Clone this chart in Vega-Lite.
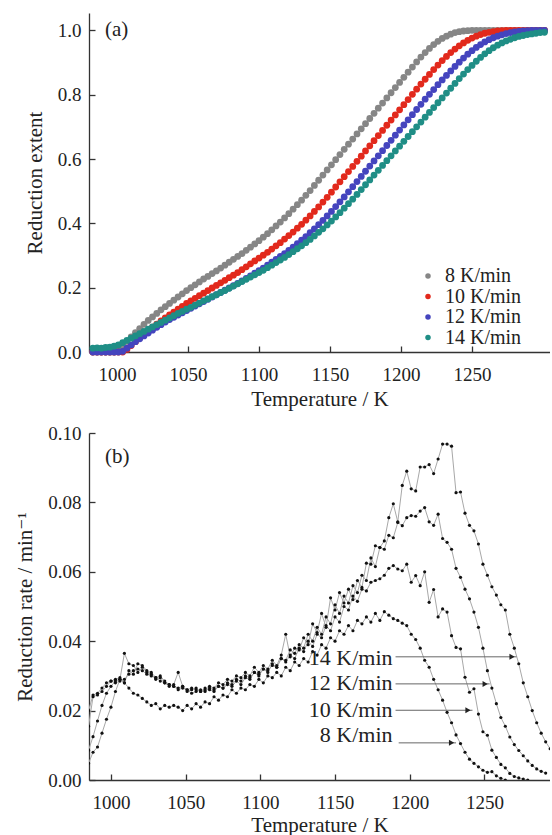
{
"$schema": "https://vega.github.io/schema/vega-lite/v6.json",
"background": "white",
"padding": {"left": 14, "top": 13, "right": 0, "bottom": 0},
"spacing": 15,
"config": {
 "font": "Liberation Serif, Times New Roman, DejaVu Serif, serif",
 "view": {"stroke": null},
 "axis": {"grid": false, "domainColor": "#333", "domainWidth": 1.3, "tickColor": "#333", "tickWidth": 1.3, "tickSize": -6, "labelFontSize": 19, "titleFontSize": 21, "labelColor": "#222", "titleColor": "#222", "titleFontWeight": "normal", "labelFont": "Liberation Serif, Times New Roman, DejaVu Serif, serif", "titleFont": "Liberation Serif, Times New Roman, DejaVu Serif, serif"},
 "axisX": {"labelPadding": 19, "titlePadding": 4},
 "axisY": {"labelPadding": 14, "titlePadding": 12},
 "text": {"font": "Liberation Serif, Times New Roman, DejaVu Serif, serif"},
 "legend": {"labelFont": "Liberation Serif, Times New Roman, DejaVu Serif, serif"}
},
"datasets": {
"ext": [
{"s":"8","T":983,"v":0},{"s":"8","T":986,"v":0},{"s":"8","T":989,"v":0},{"s":"8","T":992,"v":0},{"s":"8","T":995,"v":0},{"s":"8","T":998,"v":0},{"s":"8","T":1001,"v":0.005},{"s":"8","T":1004,"v":0.018},{"s":"8","T":1007,"v":0.033},{"s":"8","T":1010,"v":0.047},{"s":"8","T":1013,"v":0.06},{"s":"8","T":1016,"v":0.073},{"s":"8","T":1019,"v":0.086},{"s":"8","T":1022,"v":0.098},{"s":"8","T":1025,"v":0.109},{"s":"8","T":1028,"v":0.12},{"s":"8","T":1031,"v":0.131},{"s":"8","T":1034,"v":0.141},{"s":"8","T":1037,"v":0.151},{"s":"8","T":1040,"v":0.161},{"s":"8","T":1043,"v":0.171},{"s":"8","T":1046,"v":0.181},{"s":"8","T":1049,"v":0.191},{"s":"8","T":1052,"v":0.2},{"s":"8","T":1055,"v":0.209},{"s":"8","T":1058,"v":0.218},{"s":"8","T":1061,"v":0.227},{"s":"8","T":1064,"v":0.235},{"s":"8","T":1067,"v":0.244},{"s":"8","T":1070,"v":0.252},{"s":"8","T":1073,"v":0.261},{"s":"8","T":1076,"v":0.27},{"s":"8","T":1079,"v":0.279},{"s":"8","T":1082,"v":0.288},{"s":"8","T":1085,"v":0.297},{"s":"8","T":1088,"v":0.306},{"s":"8","T":1091,"v":0.316},{"s":"8","T":1094,"v":0.326},{"s":"8","T":1097,"v":0.336},{"s":"8","T":1100,"v":0.346},{"s":"8","T":1103,"v":0.357},{"s":"8","T":1106,"v":0.368},{"s":"8","T":1109,"v":0.38},{"s":"8","T":1112,"v":0.392},{"s":"8","T":1115,"v":0.404},{"s":"8","T":1118,"v":0.417},{"s":"8","T":1121,"v":0.43},{"s":"8","T":1124,"v":0.444},{"s":"8","T":1127,"v":0.458},{"s":"8","T":1130,"v":0.472},{"s":"8","T":1133,"v":0.487},{"s":"8","T":1136,"v":0.502},{"s":"8","T":1139,"v":0.518},{"s":"8","T":1142,"v":0.534},{"s":"8","T":1145,"v":0.55},{"s":"8","T":1148,"v":0.566},{"s":"8","T":1151,"v":0.582},{"s":"8","T":1154,"v":0.598},{"s":"8","T":1157,"v":0.614},{"s":"8","T":1160,"v":0.63},{"s":"8","T":1163,"v":0.646},{"s":"8","T":1166,"v":0.662},{"s":"8","T":1169,"v":0.678},{"s":"8","T":1172,"v":0.694},{"s":"8","T":1175,"v":0.71},{"s":"8","T":1178,"v":0.726},{"s":"8","T":1181,"v":0.742},{"s":"8","T":1184,"v":0.758},{"s":"8","T":1187,"v":0.774},{"s":"8","T":1190,"v":0.79},{"s":"8","T":1193,"v":0.806},{"s":"8","T":1196,"v":0.822},{"s":"8","T":1199,"v":0.838},{"s":"8","T":1202,"v":0.854},{"s":"8","T":1205,"v":0.87},{"s":"8","T":1208,"v":0.886},{"s":"8","T":1211,"v":0.902},{"s":"8","T":1214,"v":0.917},{"s":"8","T":1217,"v":0.931},{"s":"8","T":1220,"v":0.944},{"s":"8","T":1223,"v":0.956},{"s":"8","T":1226,"v":0.966},{"s":"8","T":1229,"v":0.975},{"s":"8","T":1232,"v":0.982},{"s":"8","T":1235,"v":0.988},{"s":"8","T":1238,"v":0.993},{"s":"8","T":1241,"v":0.996},{"s":"8","T":1244,"v":0.998},{"s":"8","T":1247,"v":0.999},{"s":"8","T":1250,"v":1},{"s":"8","T":1253,"v":1},{"s":"8","T":1256,"v":1},{"s":"8","T":1259,"v":1},{"s":"8","T":1262,"v":1},{"s":"8","T":1265,"v":1},{"s":"8","T":1268,"v":1},{"s":"8","T":1271,"v":1},{"s":"8","T":1274,"v":1},{"s":"8","T":1277,"v":1},{"s":"8","T":1280,"v":1},{"s":"8","T":1283,"v":1},{"s":"8","T":1286,"v":1},{"s":"8","T":1289,"v":1},{"s":"8","T":1292,"v":1},{"s":"8","T":1295,"v":1},{"s":"8","T":1298,"v":1},{"s":"8","T":1301,"v":1},
{"s":"10","T":983,"v":0},{"s":"10","T":986,"v":0},{"s":"10","T":989,"v":0},{"s":"10","T":992,"v":0},{"s":"10","T":995,"v":0},{"s":"10","T":998,"v":0},{"s":"10","T":1001,"v":0},{"s":"10","T":1004,"v":0},{"s":"10","T":1007,"v":0.008},{"s":"10","T":1010,"v":0.02},{"s":"10","T":1013,"v":0.032},{"s":"10","T":1016,"v":0.044},{"s":"10","T":1019,"v":0.055},{"s":"10","T":1022,"v":0.066},{"s":"10","T":1025,"v":0.077},{"s":"10","T":1028,"v":0.087},{"s":"10","T":1031,"v":0.097},{"s":"10","T":1034,"v":0.106},{"s":"10","T":1037,"v":0.115},{"s":"10","T":1040,"v":0.124},{"s":"10","T":1043,"v":0.133},{"s":"10","T":1046,"v":0.142},{"s":"10","T":1049,"v":0.151},{"s":"10","T":1052,"v":0.159},{"s":"10","T":1055,"v":0.167},{"s":"10","T":1058,"v":0.175},{"s":"10","T":1061,"v":0.183},{"s":"10","T":1064,"v":0.191},{"s":"10","T":1067,"v":0.199},{"s":"10","T":1070,"v":0.207},{"s":"10","T":1073,"v":0.215},{"s":"10","T":1076,"v":0.223},{"s":"10","T":1079,"v":0.231},{"s":"10","T":1082,"v":0.239},{"s":"10","T":1085,"v":0.247},{"s":"10","T":1088,"v":0.256},{"s":"10","T":1091,"v":0.265},{"s":"10","T":1094,"v":0.274},{"s":"10","T":1097,"v":0.283},{"s":"10","T":1100,"v":0.292},{"s":"10","T":1103,"v":0.301},{"s":"10","T":1106,"v":0.31},{"s":"10","T":1109,"v":0.32},{"s":"10","T":1112,"v":0.33},{"s":"10","T":1115,"v":0.34},{"s":"10","T":1118,"v":0.351},{"s":"10","T":1121,"v":0.362},{"s":"10","T":1124,"v":0.373},{"s":"10","T":1127,"v":0.385},{"s":"10","T":1130,"v":0.397},{"s":"10","T":1133,"v":0.41},{"s":"10","T":1136,"v":0.423},{"s":"10","T":1139,"v":0.437},{"s":"10","T":1142,"v":0.451},{"s":"10","T":1145,"v":0.466},{"s":"10","T":1148,"v":0.481},{"s":"10","T":1151,"v":0.497},{"s":"10","T":1154,"v":0.513},{"s":"10","T":1157,"v":0.529},{"s":"10","T":1160,"v":0.545},{"s":"10","T":1163,"v":0.561},{"s":"10","T":1166,"v":0.577},{"s":"10","T":1169,"v":0.593},{"s":"10","T":1172,"v":0.609},{"s":"10","T":1175,"v":0.625},{"s":"10","T":1178,"v":0.641},{"s":"10","T":1181,"v":0.657},{"s":"10","T":1184,"v":0.673},{"s":"10","T":1187,"v":0.689},{"s":"10","T":1190,"v":0.705},{"s":"10","T":1193,"v":0.721},{"s":"10","T":1196,"v":0.737},{"s":"10","T":1199,"v":0.753},{"s":"10","T":1202,"v":0.769},{"s":"10","T":1205,"v":0.785},{"s":"10","T":1208,"v":0.801},{"s":"10","T":1211,"v":0.817},{"s":"10","T":1214,"v":0.833},{"s":"10","T":1217,"v":0.848},{"s":"10","T":1220,"v":0.863},{"s":"10","T":1223,"v":0.878},{"s":"10","T":1226,"v":0.892},{"s":"10","T":1229,"v":0.906},{"s":"10","T":1232,"v":0.919},{"s":"10","T":1235,"v":0.931},{"s":"10","T":1238,"v":0.942},{"s":"10","T":1241,"v":0.952},{"s":"10","T":1244,"v":0.961},{"s":"10","T":1247,"v":0.969},{"s":"10","T":1250,"v":0.976},{"s":"10","T":1253,"v":0.982},{"s":"10","T":1256,"v":0.987},{"s":"10","T":1259,"v":0.991},{"s":"10","T":1262,"v":0.994},{"s":"10","T":1265,"v":0.996},{"s":"10","T":1268,"v":0.998},{"s":"10","T":1271,"v":0.999},{"s":"10","T":1274,"v":1},{"s":"10","T":1277,"v":1},{"s":"10","T":1280,"v":1},{"s":"10","T":1283,"v":1},{"s":"10","T":1286,"v":1},{"s":"10","T":1289,"v":1},{"s":"10","T":1292,"v":1},{"s":"10","T":1295,"v":1},{"s":"10","T":1298,"v":1},{"s":"10","T":1301,"v":1},
{"s":"12","T":983,"v":0},{"s":"12","T":986,"v":0},{"s":"12","T":989,"v":0},{"s":"12","T":992,"v":0},{"s":"12","T":995,"v":0},{"s":"12","T":998,"v":0},{"s":"12","T":1001,"v":0},{"s":"12","T":1004,"v":0.002},{"s":"12","T":1007,"v":0.012},{"s":"12","T":1010,"v":0.022},{"s":"12","T":1013,"v":0.032},{"s":"12","T":1016,"v":0.041},{"s":"12","T":1019,"v":0.05},{"s":"12","T":1022,"v":0.059},{"s":"12","T":1025,"v":0.068},{"s":"12","T":1028,"v":0.077},{"s":"12","T":1031,"v":0.085},{"s":"12","T":1034,"v":0.093},{"s":"12","T":1037,"v":0.101},{"s":"12","T":1040,"v":0.108},{"s":"12","T":1043,"v":0.115},{"s":"12","T":1046,"v":0.122},{"s":"12","T":1049,"v":0.129},{"s":"12","T":1052,"v":0.136},{"s":"12","T":1055,"v":0.143},{"s":"12","T":1058,"v":0.15},{"s":"12","T":1061,"v":0.157},{"s":"12","T":1064,"v":0.164},{"s":"12","T":1067,"v":0.171},{"s":"12","T":1070,"v":0.178},{"s":"12","T":1073,"v":0.185},{"s":"12","T":1076,"v":0.192},{"s":"12","T":1079,"v":0.199},{"s":"12","T":1082,"v":0.206},{"s":"12","T":1085,"v":0.213},{"s":"12","T":1088,"v":0.221},{"s":"12","T":1091,"v":0.229},{"s":"12","T":1094,"v":0.237},{"s":"12","T":1097,"v":0.245},{"s":"12","T":1100,"v":0.253},{"s":"12","T":1103,"v":0.261},{"s":"12","T":1106,"v":0.27},{"s":"12","T":1109,"v":0.279},{"s":"12","T":1112,"v":0.288},{"s":"12","T":1115,"v":0.297},{"s":"12","T":1118,"v":0.306},{"s":"12","T":1121,"v":0.316},{"s":"12","T":1124,"v":0.326},{"s":"12","T":1127,"v":0.337},{"s":"12","T":1130,"v":0.348},{"s":"12","T":1133,"v":0.359},{"s":"12","T":1136,"v":0.371},{"s":"12","T":1139,"v":0.383},{"s":"12","T":1142,"v":0.396},{"s":"12","T":1145,"v":0.409},{"s":"12","T":1148,"v":0.423},{"s":"12","T":1151,"v":0.437},{"s":"12","T":1154,"v":0.452},{"s":"12","T":1157,"v":0.467},{"s":"12","T":1160,"v":0.482},{"s":"12","T":1163,"v":0.498},{"s":"12","T":1166,"v":0.514},{"s":"12","T":1169,"v":0.53},{"s":"12","T":1172,"v":0.546},{"s":"12","T":1175,"v":0.562},{"s":"12","T":1178,"v":0.578},{"s":"12","T":1181,"v":0.594},{"s":"12","T":1184,"v":0.61},{"s":"12","T":1187,"v":0.626},{"s":"12","T":1190,"v":0.642},{"s":"12","T":1193,"v":0.658},{"s":"12","T":1196,"v":0.674},{"s":"12","T":1199,"v":0.69},{"s":"12","T":1202,"v":0.706},{"s":"12","T":1205,"v":0.722},{"s":"12","T":1208,"v":0.738},{"s":"12","T":1211,"v":0.754},{"s":"12","T":1214,"v":0.77},{"s":"12","T":1217,"v":0.786},{"s":"12","T":1220,"v":0.801},{"s":"12","T":1223,"v":0.816},{"s":"12","T":1226,"v":0.831},{"s":"12","T":1229,"v":0.846},{"s":"12","T":1232,"v":0.86},{"s":"12","T":1235,"v":0.874},{"s":"12","T":1238,"v":0.888},{"s":"12","T":1241,"v":0.901},{"s":"12","T":1244,"v":0.914},{"s":"12","T":1247,"v":0.926},{"s":"12","T":1250,"v":0.937},{"s":"12","T":1253,"v":0.947},{"s":"12","T":1256,"v":0.956},{"s":"12","T":1259,"v":0.964},{"s":"12","T":1262,"v":0.971},{"s":"12","T":1265,"v":0.977},{"s":"12","T":1268,"v":0.982},{"s":"12","T":1271,"v":0.986},{"s":"12","T":1274,"v":0.99},{"s":"12","T":1277,"v":0.993},{"s":"12","T":1280,"v":0.995},{"s":"12","T":1283,"v":0.997},{"s":"12","T":1286,"v":0.998},{"s":"12","T":1289,"v":0.999},{"s":"12","T":1292,"v":1},{"s":"12","T":1295,"v":1},{"s":"12","T":1298,"v":1},{"s":"12","T":1301,"v":1},
{"s":"14","T":983,"v":0.012},{"s":"14","T":986,"v":0.013},{"s":"14","T":989,"v":0.012},{"s":"14","T":992,"v":0.014},{"s":"14","T":995,"v":0.015},{"s":"14","T":998,"v":0.018},{"s":"14","T":1001,"v":0.022},{"s":"14","T":1004,"v":0.029},{"s":"14","T":1007,"v":0.036},{"s":"14","T":1010,"v":0.043},{"s":"14","T":1013,"v":0.05},{"s":"14","T":1016,"v":0.057},{"s":"14","T":1019,"v":0.064},{"s":"14","T":1022,"v":0.071},{"s":"14","T":1025,"v":0.078},{"s":"14","T":1028,"v":0.085},{"s":"14","T":1031,"v":0.092},{"s":"14","T":1034,"v":0.099},{"s":"14","T":1037,"v":0.106},{"s":"14","T":1040,"v":0.113},{"s":"14","T":1043,"v":0.12},{"s":"14","T":1046,"v":0.126},{"s":"14","T":1049,"v":0.133},{"s":"14","T":1052,"v":0.139},{"s":"14","T":1055,"v":0.146},{"s":"14","T":1058,"v":0.152},{"s":"14","T":1061,"v":0.159},{"s":"14","T":1064,"v":0.165},{"s":"14","T":1067,"v":0.172},{"s":"14","T":1070,"v":0.178},{"s":"14","T":1073,"v":0.185},{"s":"14","T":1076,"v":0.191},{"s":"14","T":1079,"v":0.198},{"s":"14","T":1082,"v":0.205},{"s":"14","T":1085,"v":0.212},{"s":"14","T":1088,"v":0.219},{"s":"14","T":1091,"v":0.226},{"s":"14","T":1094,"v":0.233},{"s":"14","T":1097,"v":0.24},{"s":"14","T":1100,"v":0.247},{"s":"14","T":1103,"v":0.254},{"s":"14","T":1106,"v":0.262},{"s":"14","T":1109,"v":0.27},{"s":"14","T":1112,"v":0.278},{"s":"14","T":1115,"v":0.286},{"s":"14","T":1118,"v":0.294},{"s":"14","T":1121,"v":0.303},{"s":"14","T":1124,"v":0.312},{"s":"14","T":1127,"v":0.321},{"s":"14","T":1130,"v":0.33},{"s":"14","T":1133,"v":0.34},{"s":"14","T":1136,"v":0.35},{"s":"14","T":1139,"v":0.361},{"s":"14","T":1142,"v":0.372},{"s":"14","T":1145,"v":0.383},{"s":"14","T":1148,"v":0.395},{"s":"14","T":1151,"v":0.407},{"s":"14","T":1154,"v":0.42},{"s":"14","T":1157,"v":0.433},{"s":"14","T":1160,"v":0.447},{"s":"14","T":1163,"v":0.461},{"s":"14","T":1166,"v":0.475},{"s":"14","T":1169,"v":0.49},{"s":"14","T":1172,"v":0.505},{"s":"14","T":1175,"v":0.52},{"s":"14","T":1178,"v":0.535},{"s":"14","T":1181,"v":0.55},{"s":"14","T":1184,"v":0.565},{"s":"14","T":1187,"v":0.58},{"s":"14","T":1190,"v":0.595},{"s":"14","T":1193,"v":0.61},{"s":"14","T":1196,"v":0.625},{"s":"14","T":1199,"v":0.64},{"s":"14","T":1202,"v":0.655},{"s":"14","T":1205,"v":0.67},{"s":"14","T":1208,"v":0.685},{"s":"14","T":1211,"v":0.7},{"s":"14","T":1214,"v":0.715},{"s":"14","T":1217,"v":0.73},{"s":"14","T":1220,"v":0.745},{"s":"14","T":1223,"v":0.76},{"s":"14","T":1226,"v":0.775},{"s":"14","T":1229,"v":0.79},{"s":"14","T":1232,"v":0.805},{"s":"14","T":1235,"v":0.82},{"s":"14","T":1238,"v":0.835},{"s":"14","T":1241,"v":0.85},{"s":"14","T":1244,"v":0.864},{"s":"14","T":1247,"v":0.878},{"s":"14","T":1250,"v":0.891},{"s":"14","T":1253,"v":0.904},{"s":"14","T":1256,"v":0.916},{"s":"14","T":1259,"v":0.927},{"s":"14","T":1262,"v":0.937},{"s":"14","T":1265,"v":0.946},{"s":"14","T":1268,"v":0.954},{"s":"14","T":1271,"v":0.961},{"s":"14","T":1274,"v":0.967},{"s":"14","T":1277,"v":0.972},{"s":"14","T":1280,"v":0.977},{"s":"14","T":1283,"v":0.981},{"s":"14","T":1286,"v":0.984},{"s":"14","T":1289,"v":0.987},{"s":"14","T":1292,"v":0.989},{"s":"14","T":1295,"v":0.991},{"s":"14","T":1298,"v":0.993},{"s":"14","T":1301,"v":0.994}
],
"rate": [
{"s":"8","T":985,"v":0.0155},{"s":"8","T":988,"v":0.024},{"s":"8","T":991,"v":0.0245},{"s":"8","T":994,"v":0.0255},{"s":"8","T":997,"v":0.027},{"s":"8","T":1000,"v":0.0285},{"s":"8","T":1003,"v":0.029},{"s":"8","T":1006,"v":0.0295},{"s":"8","T":1009,"v":0.028},{"s":"8","T":1012,"v":0.0265},{"s":"8","T":1015,"v":0.025},{"s":"8","T":1018,"v":0.0245},{"s":"8","T":1021,"v":0.0235},{"s":"8","T":1024,"v":0.0225},{"s":"8","T":1027,"v":0.0215},{"s":"8","T":1030,"v":0.022},{"s":"8","T":1033,"v":0.0205},{"s":"8","T":1036,"v":0.0215},{"s":"8","T":1039,"v":0.021},{"s":"8","T":1042,"v":0.0215},{"s":"8","T":1045,"v":0.021},{"s":"8","T":1048,"v":0.02},{"s":"8","T":1051,"v":0.0215},{"s":"8","T":1054,"v":0.0205},{"s":"8","T":1057,"v":0.022},{"s":"8","T":1060,"v":0.021},{"s":"8","T":1063,"v":0.0225},{"s":"8","T":1066,"v":0.022},{"s":"8","T":1069,"v":0.024},{"s":"8","T":1072,"v":0.023},{"s":"8","T":1075,"v":0.0245},{"s":"8","T":1078,"v":0.024},{"s":"8","T":1081,"v":0.026},{"s":"8","T":1084,"v":0.025},{"s":"8","T":1087,"v":0.0265},{"s":"8","T":1090,"v":0.026},{"s":"8","T":1093,"v":0.0275},{"s":"8","T":1096,"v":0.027},{"s":"8","T":1099,"v":0.029},{"s":"8","T":1102,"v":0.028},{"s":"8","T":1105,"v":0.03},{"s":"8","T":1108,"v":0.0295},{"s":"8","T":1111,"v":0.031},{"s":"8","T":1114,"v":0.03},{"s":"8","T":1117,"v":0.0325},{"s":"8","T":1120,"v":0.0315},{"s":"8","T":1123,"v":0.034},{"s":"8","T":1126,"v":0.033},{"s":"8","T":1129,"v":0.035},{"s":"8","T":1132,"v":0.034},{"s":"8","T":1135,"v":0.037},{"s":"8","T":1138,"v":0.036},{"s":"8","T":1141,"v":0.039},{"s":"8","T":1144,"v":0.038},{"s":"8","T":1147,"v":0.041},{"s":"8","T":1150,"v":0.04},{"s":"8","T":1153,"v":0.043},{"s":"8","T":1156,"v":0.042},{"s":"8","T":1159,"v":0.0445},{"s":"8","T":1162,"v":0.043},{"s":"8","T":1165,"v":0.046},{"s":"8","T":1168,"v":0.045},{"s":"8","T":1171,"v":0.047},{"s":"8","T":1174,"v":0.0455},{"s":"8","T":1177,"v":0.048},{"s":"8","T":1180,"v":0.046},{"s":"8","T":1183,"v":0.0485},{"s":"8","T":1186,"v":0.0475},{"s":"8","T":1189,"v":0.0465},{"s":"8","T":1192,"v":0.046},{"s":"8","T":1195,"v":0.0452},{"s":"8","T":1198,"v":0.0445},{"s":"8","T":1201,"v":0.042},{"s":"8","T":1204,"v":0.0405},{"s":"8","T":1207,"v":0.038},{"s":"8","T":1210,"v":0.0345},{"s":"8","T":1213,"v":0.0325},{"s":"8","T":1216,"v":0.029},{"s":"8","T":1219,"v":0.026},{"s":"8","T":1222,"v":0.023},{"s":"8","T":1225,"v":0.0195},{"s":"8","T":1228,"v":0.0165},{"s":"8","T":1231,"v":0.013},{"s":"8","T":1234,"v":0.0105},{"s":"8","T":1237,"v":0.008},{"s":"8","T":1240,"v":0.006},{"s":"8","T":1243,"v":0.0048},{"s":"8","T":1246,"v":0.0038},{"s":"8","T":1249,"v":0.0028},{"s":"8","T":1252,"v":0.0022},{"s":"8","T":1255,"v":0.0024},{"s":"8","T":1258,"v":0.0012},{"s":"8","T":1261,"v":0.0005},{"s":"8","T":1264,"v":0},
{"s":"10","T":985,"v":0.0048},{"s":"10","T":988,"v":0.008},{"s":"10","T":991,"v":0.0095},{"s":"10","T":994,"v":0.0135},{"s":"10","T":997,"v":0.0175},{"s":"10","T":1000,"v":0.021},{"s":"10","T":1003,"v":0.0255},{"s":"10","T":1006,"v":0.029},{"s":"10","T":1009,"v":0.0365},{"s":"10","T":1012,"v":0.0335},{"s":"10","T":1015,"v":0.033},{"s":"10","T":1018,"v":0.031},{"s":"10","T":1021,"v":0.0325},{"s":"10","T":1024,"v":0.031},{"s":"10","T":1027,"v":0.0305},{"s":"10","T":1030,"v":0.029},{"s":"10","T":1033,"v":0.0295},{"s":"10","T":1036,"v":0.028},{"s":"10","T":1039,"v":0.027},{"s":"10","T":1042,"v":0.0275},{"s":"10","T":1045,"v":0.031},{"s":"10","T":1048,"v":0.027},{"s":"10","T":1051,"v":0.026},{"s":"10","T":1054,"v":0.0265},{"s":"10","T":1057,"v":0.026},{"s":"10","T":1060,"v":0.0255},{"s":"10","T":1063,"v":0.0265},{"s":"10","T":1066,"v":0.026},{"s":"10","T":1069,"v":0.0255},{"s":"10","T":1072,"v":0.027},{"s":"10","T":1075,"v":0.0265},{"s":"10","T":1078,"v":0.028},{"s":"10","T":1081,"v":0.0275},{"s":"10","T":1084,"v":0.029},{"s":"10","T":1087,"v":0.0285},{"s":"10","T":1090,"v":0.03},{"s":"10","T":1093,"v":0.0295},{"s":"10","T":1096,"v":0.031},{"s":"10","T":1099,"v":0.0305},{"s":"10","T":1102,"v":0.032},{"s":"10","T":1105,"v":0.0315},{"s":"10","T":1108,"v":0.033},{"s":"10","T":1111,"v":0.0325},{"s":"10","T":1114,"v":0.035},{"s":"10","T":1117,"v":0.034},{"s":"10","T":1120,"v":0.036},{"s":"10","T":1123,"v":0.035},{"s":"10","T":1126,"v":0.038},{"s":"10","T":1129,"v":0.037},{"s":"10","T":1132,"v":0.04},{"s":"10","T":1135,"v":0.0385},{"s":"10","T":1138,"v":0.042},{"s":"10","T":1141,"v":0.041},{"s":"10","T":1144,"v":0.0445},{"s":"10","T":1147,"v":0.043},{"s":"10","T":1150,"v":0.047},{"s":"10","T":1153,"v":0.0455},{"s":"10","T":1156,"v":0.05},{"s":"10","T":1159,"v":0.049},{"s":"10","T":1162,"v":0.053},{"s":"10","T":1165,"v":0.0515},{"s":"10","T":1168,"v":0.055},{"s":"10","T":1171,"v":0.0545},{"s":"10","T":1174,"v":0.057},{"s":"10","T":1177,"v":0.0575},{"s":"10","T":1180,"v":0.058},{"s":"10","T":1183,"v":0.059},{"s":"10","T":1186,"v":0.061},{"s":"10","T":1189,"v":0.0618},{"s":"10","T":1192,"v":0.0608},{"s":"10","T":1195,"v":0.0603},{"s":"10","T":1198,"v":0.0622},{"s":"10","T":1201,"v":0.057},{"s":"10","T":1204,"v":0.0589},{"s":"10","T":1207,"v":0.056},{"s":"10","T":1210,"v":0.06},{"s":"10","T":1213,"v":0.0512},{"s":"10","T":1216,"v":0.0549},{"s":"10","T":1219,"v":0.047},{"s":"10","T":1222,"v":0.0493},{"s":"10","T":1225,"v":0.0484},{"s":"10","T":1228,"v":0.0416},{"s":"10","T":1231,"v":0.0382},{"s":"10","T":1234,"v":0.0378},{"s":"10","T":1237,"v":0.0296},{"s":"10","T":1240,"v":0.0253},{"s":"10","T":1243,"v":0.0263},{"s":"10","T":1246,"v":0.019},{"s":"10","T":1249,"v":0.0139},{"s":"10","T":1252,"v":0.0129},{"s":"10","T":1255,"v":0.0086},{"s":"10","T":1258,"v":0.0065},{"s":"10","T":1261,"v":0.0045},{"s":"10","T":1264,"v":0.0035},{"s":"10","T":1267,"v":0.0019},{"s":"10","T":1270,"v":0.001},{"s":"10","T":1273,"v":0.0006},{"s":"10","T":1276,"v":0.0003},{"s":"10","T":1279,"v":0},
{"s":"12","T":985,"v":0.02},{"s":"12","T":988,"v":0.0245},{"s":"12","T":991,"v":0.025},{"s":"12","T":994,"v":0.0265},{"s":"12","T":997,"v":0.028},{"s":"12","T":1000,"v":0.0285},{"s":"12","T":1003,"v":0.028},{"s":"12","T":1006,"v":0.0285},{"s":"12","T":1009,"v":0.029},{"s":"12","T":1012,"v":0.0305},{"s":"12","T":1015,"v":0.0315},{"s":"12","T":1018,"v":0.032},{"s":"12","T":1021,"v":0.0315},{"s":"12","T":1024,"v":0.0305},{"s":"12","T":1027,"v":0.03},{"s":"12","T":1030,"v":0.0295},{"s":"12","T":1033,"v":0.0285},{"s":"12","T":1036,"v":0.028},{"s":"12","T":1039,"v":0.0275},{"s":"12","T":1042,"v":0.027},{"s":"12","T":1045,"v":0.026},{"s":"12","T":1048,"v":0.0265},{"s":"12","T":1051,"v":0.026},{"s":"12","T":1054,"v":0.025},{"s":"12","T":1057,"v":0.0255},{"s":"12","T":1060,"v":0.026},{"s":"12","T":1063,"v":0.0255},{"s":"12","T":1066,"v":0.0265},{"s":"12","T":1069,"v":0.026},{"s":"12","T":1072,"v":0.027},{"s":"12","T":1075,"v":0.0265},{"s":"12","T":1078,"v":0.0275},{"s":"12","T":1081,"v":0.027},{"s":"12","T":1084,"v":0.0285},{"s":"12","T":1087,"v":0.0275},{"s":"12","T":1090,"v":0.0295},{"s":"12","T":1093,"v":0.029},{"s":"12","T":1096,"v":0.031},{"s":"12","T":1099,"v":0.03},{"s":"12","T":1102,"v":0.032},{"s":"12","T":1105,"v":0.031},{"s":"12","T":1108,"v":0.0335},{"s":"12","T":1111,"v":0.0325},{"s":"12","T":1114,"v":0.035},{"s":"12","T":1117,"v":0.0345},{"s":"12","T":1120,"v":0.0375},{"s":"12","T":1123,"v":0.0365},{"s":"12","T":1126,"v":0.039},{"s":"12","T":1129,"v":0.038},{"s":"12","T":1132,"v":0.042},{"s":"12","T":1135,"v":0.04},{"s":"12","T":1138,"v":0.044},{"s":"12","T":1141,"v":0.042},{"s":"12","T":1144,"v":0.047},{"s":"12","T":1147,"v":0.045},{"s":"12","T":1150,"v":0.0505},{"s":"12","T":1153,"v":0.048},{"s":"12","T":1156,"v":0.053},{"s":"12","T":1159,"v":0.051},{"s":"12","T":1162,"v":0.056},{"s":"12","T":1165,"v":0.054},{"s":"12","T":1168,"v":0.059},{"s":"12","T":1171,"v":0.0575},{"s":"12","T":1174,"v":0.064},{"s":"12","T":1177,"v":0.0615},{"s":"12","T":1180,"v":0.067},{"s":"12","T":1183,"v":0.0665},{"s":"12","T":1186,"v":0.0705},{"s":"12","T":1189,"v":0.0698},{"s":"12","T":1192,"v":0.0742},{"s":"12","T":1195,"v":0.0733},{"s":"12","T":1198,"v":0.0756},{"s":"12","T":1201,"v":0.0762},{"s":"12","T":1204,"v":0.076},{"s":"12","T":1207,"v":0.0775},{"s":"12","T":1210,"v":0.0785},{"s":"12","T":1213,"v":0.0744},{"s":"12","T":1216,"v":0.0734},{"s":"12","T":1219,"v":0.0766},{"s":"12","T":1222,"v":0.0696},{"s":"12","T":1225,"v":0.0685},{"s":"12","T":1228,"v":0.0665},{"s":"12","T":1231,"v":0.061},{"s":"12","T":1234,"v":0.0584},{"s":"12","T":1237,"v":0.055},{"s":"12","T":1240,"v":0.0522},{"s":"12","T":1243,"v":0.0484},{"s":"12","T":1246,"v":0.044},{"s":"12","T":1249,"v":0.038},{"s":"12","T":1252,"v":0.0315},{"s":"12","T":1255,"v":0.0265},{"s":"12","T":1258,"v":0.022},{"s":"12","T":1261,"v":0.018},{"s":"12","T":1264,"v":0.0155},{"s":"12","T":1267,"v":0.0124},{"s":"12","T":1270,"v":0.0102},{"s":"12","T":1273,"v":0.0085},{"s":"12","T":1276,"v":0.007},{"s":"12","T":1279,"v":0.0055},{"s":"12","T":1282,"v":0.0042},{"s":"12","T":1285,"v":0.0032},{"s":"12","T":1288,"v":0.0025},{"s":"12","T":1291,"v":0.002},
{"s":"14","T":985,"v":0.0086},{"s":"14","T":988,"v":0.0125},{"s":"14","T":991,"v":0.017},{"s":"14","T":994,"v":0.0215},{"s":"14","T":997,"v":0.025},{"s":"14","T":1000,"v":0.027},{"s":"14","T":1003,"v":0.0285},{"s":"14","T":1006,"v":0.029},{"s":"14","T":1009,"v":0.028},{"s":"14","T":1012,"v":0.0315},{"s":"14","T":1015,"v":0.0305},{"s":"14","T":1018,"v":0.0335},{"s":"14","T":1021,"v":0.033},{"s":"14","T":1024,"v":0.0315},{"s":"14","T":1027,"v":0.031},{"s":"14","T":1030,"v":0.0295},{"s":"14","T":1033,"v":0.03},{"s":"14","T":1036,"v":0.0285},{"s":"14","T":1039,"v":0.0275},{"s":"14","T":1042,"v":0.027},{"s":"14","T":1045,"v":0.0265},{"s":"14","T":1048,"v":0.027},{"s":"14","T":1051,"v":0.0255},{"s":"14","T":1054,"v":0.026},{"s":"14","T":1057,"v":0.0265},{"s":"14","T":1060,"v":0.0255},{"s":"14","T":1063,"v":0.026},{"s":"14","T":1066,"v":0.027},{"s":"14","T":1069,"v":0.0265},{"s":"14","T":1072,"v":0.028},{"s":"14","T":1075,"v":0.0275},{"s":"14","T":1078,"v":0.029},{"s":"14","T":1081,"v":0.0285},{"s":"14","T":1084,"v":0.03},{"s":"14","T":1087,"v":0.0295},{"s":"14","T":1090,"v":0.031},{"s":"14","T":1093,"v":0.03},{"s":"14","T":1096,"v":0.0325},{"s":"14","T":1099,"v":0.031},{"s":"14","T":1102,"v":0.033},{"s":"14","T":1105,"v":0.032},{"s":"14","T":1108,"v":0.0345},{"s":"14","T":1111,"v":0.033},{"s":"14","T":1114,"v":0.036},{"s":"14","T":1117,"v":0.042},{"s":"14","T":1120,"v":0.0355},{"s":"14","T":1123,"v":0.038},{"s":"14","T":1126,"v":0.0375},{"s":"14","T":1129,"v":0.041},{"s":"14","T":1132,"v":0.039},{"s":"14","T":1135,"v":0.045},{"s":"14","T":1138,"v":0.0425},{"s":"14","T":1141,"v":0.048},{"s":"14","T":1144,"v":0.044},{"s":"14","T":1147,"v":0.0525},{"s":"14","T":1150,"v":0.049},{"s":"14","T":1153,"v":0.054},{"s":"14","T":1156,"v":0.051},{"s":"14","T":1159,"v":0.055},{"s":"14","T":1162,"v":0.052},{"s":"14","T":1165,"v":0.0575},{"s":"14","T":1168,"v":0.0555},{"s":"14","T":1171,"v":0.0625},{"s":"14","T":1174,"v":0.0622},{"s":"14","T":1177,"v":0.0675},{"s":"14","T":1180,"v":0.067},{"s":"14","T":1183,"v":0.0689},{"s":"14","T":1186,"v":0.0756},{"s":"14","T":1189,"v":0.0796},{"s":"14","T":1192,"v":0.0744},{"s":"14","T":1195,"v":0.0849},{"s":"14","T":1198,"v":0.089},{"s":"14","T":1201,"v":0.0839},{"s":"14","T":1204,"v":0.0833},{"s":"14","T":1207,"v":0.0902},{"s":"14","T":1210,"v":0.0902},{"s":"14","T":1213,"v":0.0909},{"s":"14","T":1216,"v":0.0883},{"s":"14","T":1219,"v":0.0925},{"s":"14","T":1222,"v":0.0968},{"s":"14","T":1225,"v":0.0968},{"s":"14","T":1228,"v":0.0962},{"s":"14","T":1231,"v":0.0828},{"s":"14","T":1234,"v":0.083},{"s":"14","T":1237,"v":0.0769},{"s":"14","T":1240,"v":0.0734},{"s":"14","T":1243,"v":0.0718},{"s":"14","T":1246,"v":0.068},{"s":"14","T":1249,"v":0.0622},{"s":"14","T":1252,"v":0.059},{"s":"14","T":1255,"v":0.0557},{"s":"14","T":1258,"v":0.0533},{"s":"14","T":1261,"v":0.0505},{"s":"14","T":1264,"v":0.049},{"s":"14","T":1267,"v":0.042},{"s":"14","T":1270,"v":0.038},{"s":"14","T":1273,"v":0.0335},{"s":"14","T":1276,"v":0.028},{"s":"14","T":1279,"v":0.024},{"s":"14","T":1282,"v":0.02},{"s":"14","T":1285,"v":0.0165},{"s":"14","T":1288,"v":0.0135},{"s":"14","T":1291,"v":0.011},{"s":"14","T":1294,"v":0.009}
],
"arrows": [
{"label":"14 K/min","xt":1188.5,"yt":0.0353,"x1":1190.5,"x2":1271.5,"xh":1268.5,"y":0.0355},
{"label":"12 K/min","xt":1188.5,"yt":0.0279,"x1":1190.5,"x2":1253.5,"xh":1250.5,"y":0.0277},
{"label":"10 K/min","xt":1188.5,"yt":0.0203,"x1":1190.5,"x2":1242,"xh":1239,"y":0.0201},
{"label":"8 K/min","xt":1188.5,"yt":0.0129,"x1":1192.6,"x2":1231,"xh":1228,"y":0.0107}
]
},
"vconcat": [
{
 "width": 461, "height": 339,
 "layer": [
  {"mark": {"type": "rule", "color": "#333", "strokeWidth": 1.3}, "encoding": {"y": {"datum": 1.054, "type": "quantitative"}}},
  {"data": {"name": "ext"},
   "mark": {"type": "point", "filled": true, "size": 46, "opacity": 1},
   "encoding": {
    "x": {"field": "T", "type": "quantitative", "scale": {"domain": [980.3, 1304.9], "nice": false, "zero": false}, "axis": {"values": [1000, 1050, 1100, 1150, 1200, 1250], "format": "d", "title": "Temperature / K"}},
    "y": {"field": "v", "type": "quantitative", "scale": {"domain": [0, 1.054], "nice": false}, "axis": {"values": [0, 0.2, 0.4, 0.6, 0.8, 1.0], "format": ".1f", "title": "Reduction extent"}},
    "color": {"field": "s", "type": "nominal", "scale": {"domain": ["8", "10", "12", "14"], "range": ["#868686", "#e2291c", "#4444be", "#1f8e86"]},
     "legend": {"orient": "none", "legendX": 329, "legendY": 253, "title": null, "symbolType": "circle", "symbolSize": 30, "symbolStrokeWidth": 0, "labelFontSize": 20, "labelColor": "#222", "labelOffset": 7, "rowPadding": 0.5, "padding": 0, "labelExpr": "datum.label + ' K/min'"}}
   }},
  {"data": {"values": [{"T": 991.5, "v": 1.0, "label": "(a)"}]},
   "mark": {"type": "text", "align": "left", "baseline": "middle", "fontSize": 21, "color": "#222"},
   "encoding": {"x": {"field": "T", "type": "quantitative"}, "y": {"field": "v", "type": "quantitative"}, "text": {"field": "label"}}}
 ]
},
{
 "width": 461, "height": 347,
 "layer": [
  {"mark": {"type": "rule", "color": "#333", "strokeWidth": 1.3}, "encoding": {"y": {"datum": 0.1, "type": "quantitative"}}},
  {"data": {"name": "rate"},
   "mark": {"type": "line", "color": "#a8a8a8", "strokeWidth": 1, "clip": true},
   "encoding": {
    "x": {"field": "T", "type": "quantitative", "scale": {"domain": [985.3, 1293.9], "nice": false, "zero": false}, "axis": {"values": [1000, 1050, 1100, 1150, 1200, 1250], "format": "d", "title": "Temperature / K", "labelPadding": 19, "titlePadding": 2}},
    "y": {"field": "v", "type": "quantitative", "scale": {"domain": [0, 0.1], "nice": false}, "axis": {"values": [0, 0.01, 0.02, 0.03, 0.04, 0.05, 0.06, 0.07, 0.08, 0.09, 0.1], "format": ".2f", "title": "Reduction rate / min⁻¹"}},
    "detail": {"field": "s", "type": "nominal"}
   }},
  {"data": {"name": "rate"},
   "mark": {"type": "point", "filled": true, "size": 10, "color": "#111", "opacity": 1, "clip": true},
   "encoding": {"x": {"field": "T", "type": "quantitative"}, "y": {"field": "v", "type": "quantitative"}}},
  {"data": {"name": "arrows"},
   "mark": {"type": "rule", "color": "#666", "strokeWidth": 1},
   "encoding": {"x": {"field": "x1", "type": "quantitative"}, "x2": {"field": "x2"}, "y": {"field": "y", "type": "quantitative"}}},
  {"data": {"name": "arrows"},
   "mark": {"type": "point", "shape": "triangle-right", "filled": true, "size": 36, "color": "#222", "opacity": 1},
   "encoding": {"x": {"field": "xh", "type": "quantitative"}, "y": {"field": "y", "type": "quantitative"}}},
  {"data": {"name": "arrows"},
   "mark": {"type": "text", "align": "right", "baseline": "middle", "fontSize": 22, "color": "#222"},
   "encoding": {"x": {"field": "xt", "type": "quantitative"}, "y": {"field": "yt", "type": "quantitative"}, "text": {"field": "label"}}},
  {"data": {"values": [{"T": 996, "v": 0.093, "label": "(b)"}]},
   "mark": {"type": "text", "align": "left", "baseline": "middle", "fontSize": 21, "color": "#222"},
   "encoding": {"x": {"field": "T", "type": "quantitative"}, "y": {"field": "v", "type": "quantitative"}, "text": {"field": "label"}}}
 ]
}
]
}
